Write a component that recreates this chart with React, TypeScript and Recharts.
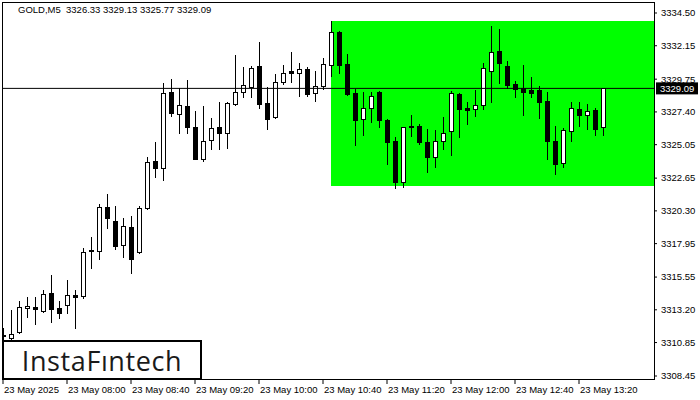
import React from "react";
import {
  Bar,
  ComposedChart,
  ReferenceArea,
  ReferenceLine,
  XAxis,
  YAxis,
} from "recharts";

// GOLD M5, 23 May 2025, 07:20 .. 13:35
const opens = [
  3311.4, 3311.15, 3311.63, 3313.31, 3313.4, 3313.14, 3314.39, 3313.33, 3313.55, 3314.26,
  3314.21, 3317.49, 3317.4, 3320.56, 3319.57, 3317.83, 3319.12, 3317.33, 3320.49, 3323.86,
  3323.36, 3328.83, 3327.23, 3327.83, 3326.32, 3324.04, 3325.37, 3326.3, 3325.87, 3327.95,
  3328.81, 3329.21, 3330.7, 3328.02, 3327.02, 3329.57, 3330.32, 3330.22, 3330.46, 3328.74,
  3329.24, 3330.75, 3333.12, 3330.82, 3328.74, 3326.87, 3327.66, 3328.83, 3326.82, 3325.31,
  3322.35, 3326.39, 3326.39, 3325.22, 3324.14, 3325.29, 3326.01, 3328.69, 3327.66, 3327.59,
  3327.88, 3330.32, 3331.75, 3330.68, 3329.41, 3329.1, 3328.99, 3328.99, 3328.19, 3325.31,
  3323.71, 3326.01, 3327.59, 3327.2, 3327.54, 3326.33,
];
const highs = [
  3311.9, 3313.19, 3313.83, 3314.14, 3314.14, 3314.62, 3315.7, 3313.83, 3315.34, 3314.62,
  3317.61, 3318.4, 3320.79, 3321.51, 3320.65, 3319.77, 3319.93, 3320.65, 3324.19, 3325.24,
  3329.5, 3329.74, 3329.1, 3329.69, 3327.47, 3327.83, 3326.97, 3328.11, 3328.11, 3331.49,
  3330.62, 3330.7, 3332.42, 3329.19, 3330.12, 3330.75, 3331.7, 3330.93, 3330.6, 3330.34,
  3331.25, 3333.93, 3333.21, 3331.56, 3329.02, 3328.83, 3328.83, 3328.9, 3326.87, 3325.58,
  3326.35, 3327.18, 3326.51, 3326.15, 3326.1, 3327.04, 3328.9, 3328.76, 3328.11, 3328.99,
  3330.89, 3333.57, 3333.33, 3331.06, 3329.62, 3330.77, 3329.91, 3329.26, 3328.83, 3326.39,
  3326.23, 3328.11, 3328.11, 3327.97, 3327.68, 3329.13,
];
const lows = [
  3310.95, 3311.08, 3311.56, 3312.71, 3312.18, 3313.07, 3312.35, 3312.59, 3312.99, 3311.92,
  3314.03, 3316.22, 3316.83, 3319.09, 3317.54, 3317.01, 3315.86, 3317.26, 3320.4, 3322.75,
  3322.52, 3327.13, 3325.91, 3325.91, 3324.0, 3323.9, 3324.76, 3324.76, 3324.83, 3327.9,
  3328.49, 3328.49, 3327.7, 3326.2, 3326.98, 3329.43, 3329.55, 3328.54, 3328.57, 3328.19,
  3329.02, 3330.0, 3330.22, 3328.65, 3325.05, 3325.77, 3326.7, 3326.34, 3323.69, 3321.96,
  3322.04, 3325.7, 3325.1, 3323.11, 3323.47, 3324.76, 3324.33, 3325.62, 3326.56, 3327.13,
  3327.59, 3328.13, 3329.5, 3329.14, 3328.49, 3327.2, 3328.49, 3326.99, 3324.04, 3322.92,
  3323.47, 3325.34, 3326.39, 3326.2, 3325.77, 3325.77,
];
const closes = [
  3311.3, 3311.46, 3313.38, 3313.47, 3313.24, 3314.31, 3313.28, 3312.99, 3314.24, 3314.14,
  3317.35, 3317.4, 3320.56, 3319.81, 3317.8, 3319.19, 3316.87, 3320.49, 3323.79, 3323.4,
  3328.74, 3327.35, 3327.88, 3326.34, 3324.04, 3325.29, 3326.23, 3325.91, 3328.02, 3328.81,
  3329.31, 3330.53, 3327.99, 3326.91, 3329.53, 3330.17, 3330.22, 3330.46, 3328.71, 3329.24,
  3330.82, 3333.12, 3330.79, 3328.71, 3326.84, 3327.66, 3328.52, 3326.84, 3325.22, 3322.39,
  3326.3, 3326.3, 3325.26, 3324.14, 3325.29, 3325.87, 3328.74, 3327.63, 3327.56, 3327.88,
  3330.53, 3331.68, 3330.93, 3329.31, 3329.05, 3328.81, 3328.78, 3328.13, 3325.34, 3323.69,
  3326.08, 3327.66, 3327.2, 3327.45, 3326.2, 3329.09,
];

const xTicks = [0, 8, 16, 24, 32, 40, 48, 56, 64, 72];
const xTickLabels = [
  "23 May 2025",
  "23 May 08:00",
  "23 May 08:40",
  "23 May 09:20",
  "23 May 10:00",
  "23 May 10:40",
  "23 May 11:20",
  "23 May 12:00",
  "23 May 12:40",
  "23 May 13:20",
];
const yTicks = [
  3308.45, 3310.85, 3313.2, 3315.55, 3317.95, 3320.3, 3322.65, 3325.05, 3327.4, 3329.75,
  3332.15, 3334.5,
];

// flat range (rectangle pattern)
const rangeStart = 41;
const rangeTop = 3333.93;
const rangeBottom = 3322.09;
const lastPrice = 3329.09;

const X_MAX = 81.375;
const Y_MIN = 3308.235;
const Y_MAX = 3335.289;

const FONT = "'Liberation Sans', Arial, sans-serif";

const data = opens.map((o, i) => ({
  i,
  open: o,
  high: highs[i],
  low: lows[i],
  close: closes[i],
  range: [lows[i], highs[i]],
}));

const Candle = (props: any) => {
  const { x, y, width, height, payload } = props;
  if (x == null || y == null) return null;
  const { open, close, high, low } = payload;
  const cx = Math.round(x + width / 2);
  const span = high - low || 1;
  const yOf = (v: number) => y + ((high - v) / span) * height;
  const top = Math.round(yOf(Math.max(open, close)));
  const bot = Math.round(yOf(Math.min(open, close)));
  const up = close >= open;
  return (
    <g>
      <line
        x1={cx + 0.5}
        x2={cx + 0.5}
        y1={Math.round(y)}
        y2={Math.round(y + height) + 1}
        stroke="#000"
        strokeWidth={1}
      />
      {up ? (
        <rect
          x={cx - 1.5}
          y={top + 0.5}
          width={4}
          height={Math.max(bot - top, 1)}
          fill="#fff"
          stroke="#000"
          strokeWidth={1}
        />
      ) : (
        <rect x={cx - 2} y={top} width={5} height={Math.max(bot - top, 1) + 1} fill="#000" />
      )}
    </g>
  );
};

const XTick = (props: any) => {
  const { x, y, payload } = props;
  const idx = xTicks.indexOf(payload.value);
  return (
    <text x={x + 1} y={y + 7} fontSize={9.5} fontFamily={FONT} fill="#000">
      {xTickLabels[idx]}
    </text>
  );
};

const PriceTag = (props: any) => {
  const vb = props.viewBox;
  if (!vb) return null;
  const left = vb.x + vb.width + 2;
  return (
    <g>
      <rect x={left} y={vb.y - 6} width={42} height={12} fill="#000" />
      <text
        x={left + 4}
        y={vb.y + 4}
        fontSize={9.5}
        fontFamily={FONT}
        fill="#fff"
      >
        {lastPrice.toFixed(2)}
      </text>
    </g>
  );
};

export default function App() {
  return (
    <div
      style={{
        position: "absolute",
        left: 0,
        top: 0,
        width: 700,
        height: 400,
        background: "#fff",
        overflow: "hidden",
      }}
    >
      <ComposedChart
        width={700}
        height={400}
        data={data}
        margin={{ top: 2, right: 0, bottom: 0, left: 3 }}
      >
        <XAxis
          type="number"
          dataKey="i"
          domain={[0, X_MAX]}
          ticks={xTicks}
          interval={0}
          allowDataOverflow
          axisLine={false}
          tickLine={{ stroke: "#000" }}
          tickSize={5}
          tickMargin={2}
          height={21}
          tick={<XTick />}
        />
        <YAxis
          orientation="right"
          type="number"
          domain={[Y_MIN, Y_MAX]}
          ticks={yTicks}
          interval={0}
          allowDataOverflow
          axisLine={false}
          tickLine={{ stroke: "#000" }}
          tickSize={3}
          tickMargin={4}
          width={46}
          tickFormatter={(v: number) => v.toFixed(2)}
          tick={{ fontSize: 9.5, fontFamily: FONT, fill: "#000" }}
        />
        <ReferenceArea
          x1={rangeStart}
          x2={X_MAX}
          y1={rangeBottom}
          y2={rangeTop}
          fill="#00ff00"
          fillOpacity={1}
          stroke="none"
          ifOverflow="visible"
        />
        <Bar
          dataKey="range"
          barSize={5}
          shape={<Candle />}
          isAnimationActive={false}
        />
        <ReferenceLine
          y={lastPrice}
          stroke="#000"
          strokeWidth={1}
          label={<PriceTag />}
        />
      </ComposedChart>
      <div
        style={{
          position: "absolute",
          left: 2,
          top: 2,
          width: 653,
          height: 378,
          border: "1px solid #000",
          boxSizing: "border-box",
          pointerEvents: "none",
        }}
      />
      <div
        style={{
          position: "absolute",
          left: 18,
          top: 4,
          fontSize: 9.5,
          fontFamily: FONT,
          color: "#000",
          whiteSpace: "pre",
          lineHeight: "12px",
        }}
      >
        {"GOLD,M5  3326.33 3329.13 3325.77 3329.09"}
      </div>
      <div
        style={{
          position: "absolute",
          left: 2,
          top: 340,
          width: 200,
          height: 40,
          border: "2px solid #000",
          boxSizing: "border-box",
          background: "#fff",
          display: "flex",
          alignItems: "center",
          justifyContent: "center",
          fontFamily: "'Open Sans', sans-serif",
          fontSize: 27,
          fontWeight: 500,
          color: "#1a1a1a",
          letterSpacing: 0.6,
          paddingTop: 1,
        }}
      >
        InstaFıntech
      </div>
    </div>
  );
}
